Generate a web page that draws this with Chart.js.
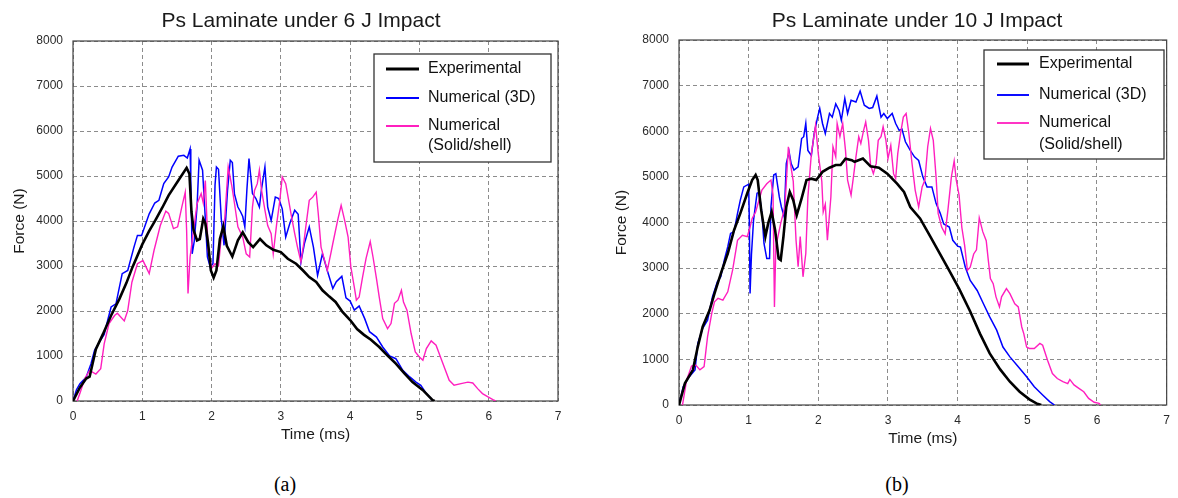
<!DOCTYPE html>
<html>
<head>
<meta charset="utf-8">
<script src="https://cdn.jsdelivr.net/npm/chart.js@4.4.1/dist/chart.umd.min.js"></script>
<style>
  html, body { margin: 0; padding: 0; background: #fff; }
  body { position: relative; width: 1178px; height: 498px; overflow: hidden; }
  canvas { position: absolute; top: 0; }
  #chart6J { left: 0; }
  #chart10J { left: 610px; }
  .caption {
    position: absolute; top: 473px; width: 60px; margin-left: -30px;
    text-align: center; line-height: 24px;
    font: 20px "Liberation Serif", "Times New Roman", serif; color: #000;
  }
</style>
</head>
<body>
<canvas id="chart6J" width="602" height="460"></canvas>
<canvas id="chart10J" width="568" height="460"></canvas>
<div class="caption" style="left:285px">(a)</div>
<div class="caption" style="left:897px">(b)</div>

<script>
// force-time histories, [time (ms), force (N)]
const exp6J = [[0,0],[0.1,300],[0.19,500],[0.24,540],[0.33,1150],[0.43,1480],[0.55,1900],[0.67,2270],[0.77,2620],[0.86,2980],[1.0,3480],[1.1,3780],[1.19,4020],[1.29,4300],[1.38,4570],[1.52,4900],[1.64,5180],[1.68,5050],[1.71,4200],[1.74,3800],[1.79,3570],[1.83,3600],[1.88,4050],[1.91,3950],[1.95,3500],[1.99,2900],[2.03,2740],[2.07,2900],[2.12,3600],[2.17,3880],[2.22,3450],[2.3,3210],[2.38,3570],[2.45,3750],[2.53,3530],[2.6,3420],[2.7,3600],[2.79,3460],[2.89,3360],[3.0,3310],[3.1,3160],[3.22,3050],[3.32,2900],[3.41,2755],[3.51,2645],[3.6,2460],[3.7,2320],[3.79,2200],[3.89,1980],[4.0,1800],[4.1,1600],[4.2,1470],[4.3,1360],[4.42,1200],[4.54,1010],[4.66,830],[4.78,620],[4.9,420],[5.05,240],[5.19,20],[5.22,0]];

const num3D6J = [[0,0],[0.05,250],[0.1,385],[0.19,530],[0.26,830],[0.31,1120],[0.38,1310],[0.45,1480],[0.5,1790],[0.55,2090],[0.62,2160],[0.71,2830],[0.79,2900],[0.88,3420],[0.93,3680],[0.99,3680],[1.1,4160],[1.18,4400],[1.24,4460],[1.31,4830],[1.38,4980],[1.43,5200],[1.52,5440],[1.6,5460],[1.65,5400],[1.69,5600],[1.7,4900],[1.72,3270],[1.75,3550],[1.79,4310],[1.82,5350],[1.87,5130],[1.9,4310],[1.94,3200],[1.98,2980],[2.02,3050],[2.05,4800],[2.07,5200],[2.1,5150],[2.14,4050],[2.18,3460],[2.23,4680],[2.27,5350],[2.3,5300],[2.33,4600],[2.38,4310],[2.42,4200],[2.45,4100],[2.48,3870],[2.51,4700],[2.54,5390],[2.59,4610],[2.64,4500],[2.69,4310],[2.72,4700],[2.77,5200],[2.81,4310],[2.86,4010],[2.92,4530],[2.97,4500],[3.02,4270],[3.07,3640],[3.13,3950],[3.2,4240],[3.25,4150],[3.29,3090],[3.34,3500],[3.41,3870],[3.47,3420],[3.53,2790],[3.6,3270],[3.67,2900],[3.75,2500],[3.8,2650],[3.88,2770],[3.94,2290],[4.0,2220],[4.06,2020],[4.13,2110],[4.21,1830],[4.28,1540],[4.38,1420],[4.47,1200],[4.57,1000],[4.66,940],[4.76,680],[4.86,535],[4.95,420],[5.02,350],[5.1,165],[5.17,50],[5.2,0]];

const solid6J = [[0.06,0],[0.1,170],[0.17,500],[0.24,680],[0.33,600],[0.4,720],[0.45,1270],[0.52,1720],[0.6,1900],[0.64,1950],[0.74,1780],[0.79,2010],[0.85,2640],[0.93,3050],[1.01,3120],[1.1,2830],[1.17,3350],[1.26,3900],[1.34,4220],[1.38,4170],[1.45,3830],[1.51,3870],[1.57,4310],[1.62,4640],[1.64,3790],[1.66,2390],[1.69,3200],[1.74,3790],[1.79,4380],[1.85,4610],[1.88,4400],[1.91,4900],[1.95,3350],[2.0,2950],[2.05,3050],[2.1,3000],[2.14,3650],[2.19,4050],[2.24,5200],[2.29,4800],[2.33,4400],[2.38,3870],[2.45,3640],[2.5,3270],[2.55,3200],[2.59,4310],[2.62,4680],[2.66,4830],[2.69,5130],[2.72,4700],[2.77,4240],[2.81,3900],[2.86,3720],[2.89,3270],[2.94,3940],[2.98,4390],[3.02,4980],[3.07,4830],[3.1,4570],[3.15,4130],[3.2,3720],[3.24,3420],[3.29,3090],[3.33,3500],[3.36,3870],[3.41,4460],[3.46,4530],[3.51,4640],[3.54,4160],[3.58,3420],[3.63,3130],[3.67,2900],[3.72,3270],[3.75,3500],[3.82,4020],[3.87,4350],[3.92,4020],[3.97,3650],[4.01,2980],[4.06,2530],[4.09,2240],[4.13,2310],[4.18,2760],[4.23,3170],[4.29,3540],[4.33,3200],[4.38,2720],[4.42,2310],[4.47,1830],[4.54,1610],[4.59,1720],[4.64,2170],[4.69,2240],[4.74,2460],[4.77,2200],[4.82,2020],[4.88,1500],[4.94,1090],[5.0,980],[5.05,905],[5.1,1165],[5.17,1335],[5.24,1240],[5.34,830],[5.43,460],[5.5,350],[5.6,385],[5.7,420],[5.77,400],[5.84,275],[5.91,165],[5.99,90],[6.06,30],[6.1,0]];

const exp10J = [[0,0],[0.085,475],[0.2,770],[0.27,1280],[0.34,1715],[0.44,2080],[0.51,2445],[0.6,2880],[0.7,3320],[0.79,3830],[0.88,4200],[0.98,4640],[1.05,4930],[1.1,5040],[1.13,4930],[1.18,4270],[1.24,3690],[1.28,3980],[1.33,4230],[1.38,3830],[1.43,3210],[1.46,3175],[1.5,3700],[1.54,4340],[1.59,4670],[1.64,4490],[1.69,4160],[1.76,4530],[1.83,4930],[1.9,4960],[1.97,4930],[2.06,5110],[2.16,5200],[2.25,5260],[2.32,5260],[2.39,5400],[2.48,5365],[2.52,5330],[2.64,5400],[2.75,5230],[2.87,5200],[2.99,5070],[3.13,4850],[3.23,4670],[3.32,4340],[3.46,4090],[3.6,3710],[3.71,3410],[3.86,3000],[4.02,2550],[4.18,2050],[4.32,1565],[4.46,1130],[4.61,780],[4.75,510],[4.89,290],[5.03,125],[5.13,35],[5.2,0]];

const num3D10J = [[0,0],[0.06,400],[0.13,585],[0.23,770],[0.27,1350],[0.34,1680],[0.41,1860],[0.48,2370],[0.55,2700],[0.6,2810],[0.65,3175],[0.7,3470],[0.74,3760],[0.79,3800],[0.84,4200],[0.88,4490],[0.93,4780],[1.0,4840],[1.01,4000],[1.02,2445],[1.04,3300],[1.07,4050],[1.12,4640],[1.15,4660],[1.19,4200],[1.22,3540],[1.26,3210],[1.3,3210],[1.32,4340],[1.36,5040],[1.39,5070],[1.44,4560],[1.47,4340],[1.51,4120],[1.54,5290],[1.58,5550],[1.61,5290],[1.65,5150],[1.71,5220],[1.76,5840],[1.79,5880],[1.82,6170],[1.85,5580],[1.9,5470],[1.94,5950],[1.99,6310],[2.02,6500],[2.06,6170],[2.1,5950],[2.16,6390],[2.2,6310],[2.25,6600],[2.3,6450],[2.33,6240],[2.38,6720],[2.42,6390],[2.47,6680],[2.54,6640],[2.6,6880],[2.66,6570],[2.73,6500],[2.78,6520],[2.84,6770],[2.9,6310],[2.94,6390],[2.99,6280],[3.06,6390],[3.11,6170],[3.16,6020],[3.2,6050],[3.25,5770],[3.32,5580],[3.38,5440],[3.44,5360],[3.5,5000],[3.56,4780],[3.63,4780],[3.69,4420],[3.75,4200],[3.8,3970],[3.88,3900],[3.93,3610],[4.0,3480],[4.04,3460],[4.11,3020],[4.18,2730],[4.28,2510],[4.37,2220],[4.46,1930],[4.56,1640],[4.65,1270],[4.75,1055],[4.87,840],[4.99,620],[5.1,400],[5.22,220],[5.32,75],[5.39,0]];

const solid10J = [[0.05,0],[0.11,550],[0.18,855],[0.24,875],[0.3,770],[0.36,840],[0.41,1500],[0.47,2010],[0.51,2260],[0.56,2340],[0.63,2300],[0.7,2480],[0.77,2960],[0.84,3610],[0.91,3720],[0.98,3690],[1.02,3900],[1.05,4090],[1.1,4230],[1.15,4500],[1.19,4710],[1.26,4850],[1.32,4930],[1.35,4600],[1.37,2150],[1.39,3470],[1.43,3760],[1.46,3980],[1.52,4340],[1.57,5660],[1.6,5290],[1.64,4900],[1.68,3610],[1.71,3030],[1.74,3690],[1.78,2810],[1.82,3320],[1.85,4560],[1.9,5510],[1.96,6130],[2.0,5500],[2.05,4900],[2.07,4230],[2.1,4400],[2.13,3610],[2.18,4560],[2.21,5660],[2.25,5440],[2.27,6170],[2.31,5880],[2.35,6170],[2.39,5580],[2.42,4930],[2.47,4600],[2.51,5070],[2.54,5440],[2.58,5880],[2.61,5730],[2.65,6020],[2.68,6200],[2.72,5800],[2.75,5260],[2.79,5070],[2.83,5290],[2.86,5800],[2.9,5880],[2.93,6100],[2.97,5800],[3.0,5400],[3.04,5690],[3.08,5070],[3.11,4960],[3.14,5510],[3.18,5950],[3.22,6310],[3.26,6390],[3.3,5950],[3.34,5360],[3.39,4710],[3.44,4340],[3.49,4780],[3.53,4930],[3.57,5660],[3.61,6060],[3.65,5800],[3.69,5000],[3.72,4200],[3.77,3900],[3.82,3750],[3.86,4270],[3.91,5000],[3.95,5350],[3.98,4930],[4.02,4600],[4.06,3890],[4.1,3500],[4.14,2950],[4.18,3020],[4.23,3310],[4.27,3400],[4.31,4100],[4.36,3800],[4.41,3600],[4.44,3170],[4.47,2770],[4.51,2660],[4.55,2370],[4.6,2150],[4.63,2370],[4.7,2550],[4.75,2440],[4.82,2220],[4.87,2150],[4.92,1710],[4.95,1560],[4.99,1270],[5.03,1240],[5.1,1240],[5.18,1350],[5.22,1310],[5.29,980],[5.36,690],[5.43,580],[5.51,510],[5.58,470],[5.61,560],[5.67,440],[5.74,365],[5.81,290],[5.88,145],[5.96,60],[6.03,35],[6.05,0]];

const seriesNames = [["Experimental"], ["Numerical (3D)"], ["Numerical", "(Solid/shell)"]];
const seriesColors = ["#000000", "#0000ff", "#ff1fbf"];
const seriesWidths = [2.6, 1.5, 1.4];

const FONT = '"Liberation Sans", Arial, sans-serif';
Chart.defaults.font.family = FONT;
Chart.defaults.color = "#2a2a2a";

// title drawn at a fixed spot, centred over plot + axis titles
const panelTitle = {
  id: "panelTitle",
  afterDraw(chart, args, opts) {
    const ctx = chart.ctx;
    ctx.save();
    ctx.font = "21px " + FONT;
    ctx.fillStyle = "#1a1a1a";
    ctx.textAlign = "center";
    ctx.textBaseline = "middle";
    ctx.fillText(opts.text, opts.x, opts.y);
    ctx.restore();
  },
};

// solid frame round the plot area
const plotFrame = {
  id: "plotFrame",
  beforeDatasetsDraw(chart) {
    const { ctx, chartArea: a } = chart;
    ctx.save();
    ctx.strokeStyle = "#444";
    ctx.lineWidth = 1.2;
    ctx.strokeRect(a.left, a.top, a.right - a.left, a.bottom - a.top);
    ctx.restore();
  },
};

// boxed legend inside the plot, one short line sample per series
const boxedLegend = {
  id: "boxedLegend",
  afterDatasetsDraw(chart, args, opts) {
    const ctx = chart.ctx;
    const { x, y, w, h, rows, gap } = opts;
    ctx.save();
    ctx.fillStyle = "#fff";
    ctx.fillRect(x, y, w, h);
    ctx.strokeStyle = "#333";
    ctx.lineWidth = 1.3;
    ctx.strokeRect(x, y, w, h);
    ctx.font = "16px " + FONT;
    ctx.textBaseline = "middle";
    chart.data.datasets.forEach((ds, i) => {
      const cy = y + rows[i];
      ctx.strokeStyle = ds.borderColor;
      ctx.lineWidth = ds.borderWidth + 0.4;
      ctx.beginPath();
      ctx.moveTo(x + opts.lineFrom, cy);
      ctx.lineTo(x + opts.lineTo, cy);
      ctx.stroke();
      ctx.fillStyle = "#111";
      seriesNames[i].forEach((s, k) => ctx.fillText(s, x + opts.textAt, cy + k * gap));
    });
    ctx.restore();
  },
};

function toPoints(rows) {
  return rows.map(([t, f]) => ({ x: t, y: f }));
}

function buildChart(id, series, look) {
  const datasets = series.map((rows, i) => ({
    label: seriesNames[i].join(" "),
    data: toPoints(rows),
    borderColor: seriesColors[i],
    borderWidth: seriesWidths[i],
    pointRadius: 0,
    tension: 0,
    fill: false,
    order: [1, 3, 2][i],
  }));

  return new Chart(document.getElementById(id), {
    type: "line",
    data: { datasets },
    plugins: [plotFrame, boxedLegend, panelTitle],
    options: {
      responsive: false,
      animation: false,
      devicePixelRatio: 1,
      layout: { padding: look.padding },
      plugins: {
        legend: { display: false },
        tooltip: { enabled: false },
        panelTitle: look.title,
        boxedLegend: look.legend,
      },
      scales: {
        x: {
          type: "linear",
          min: 0,
          max: 7,
          afterFit: (s) => { s.height = 50; },
          ticks: { stepSize: 1, padding: 8, font: { size: 12 } },
          grid: { color: "#8c8c8c", lineWidth: 1, drawTicks: false },
          border: { display: false, dash: [4, 3] },
          title: {
            display: true,
            text: "Time (ms)",
            color: "#1a1a1a",
            font: { size: 15.5 },
            padding: { top: 0, bottom: 7 },
          },
        },
        y: {
          min: 0,
          max: 8000,
          afterFit: (s) => { s.width = look.yWidth; },
          ticks: {
            stepSize: 1000,
            padding: 10,
            font: { size: 12 },
            callback: (v) => String(v),
          },
          grid: { color: "#8c8c8c", lineWidth: 1, drawTicks: false },
          border: { display: false, dash: [4, 3] },
          title: {
            display: true,
            text: "Force (N)",
            color: "#1a1a1a",
            font: { size: 15.5 },
            padding: { top: look.yTitlePad, bottom: 0 },
          },
        },
      },
    },
  });
}

buildChart("chart6J", [exp6J, num3D6J, solid6J], {
  padding: { top: 41, left: 0, right: 44, bottom: 9 },
  yWidth: 73,
  yTitlePad: 10,
  title: { text: "Ps Laminate under 6 J Impact", x: 301, y: 21 },
  legend: { x: 374, y: 54, w: 177, h: 108, rows: [15, 44, 72], gap: 20, lineFrom: 12, lineTo: 45, textAt: 54 },
});

buildChart("chart10J", [exp10J, num3D10J, solid10J], {
  padding: { top: 40, left: 0, right: 4, bottom: 5 },
  yWidth: 69,
  yTitlePad: 2,
  title: { text: "Ps Laminate under 10 J Impact", x: 307, y: 21 },
  legend: { x: 374, y: 50, w: 180, h: 109, rows: [14, 45, 73], gap: 22, lineFrom: 13, lineTo: 45, textAt: 55 },
});
</script>
</body>
</html>
